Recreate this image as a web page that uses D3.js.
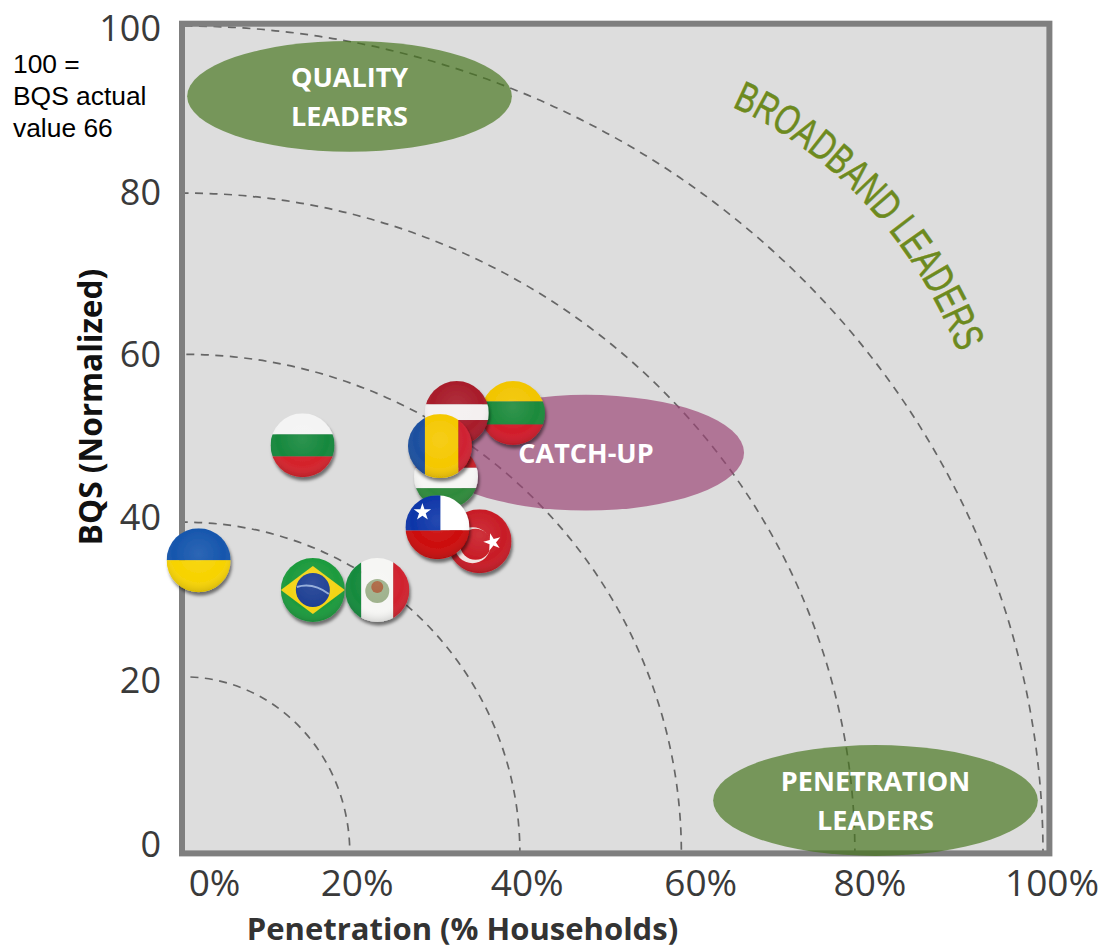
<!DOCTYPE html>
<html>
<head>
<meta charset="utf-8">
<script src="https://cdn.jsdelivr.net/npm/d3@7"></script>
<style>
  html, body { margin: 0; padding: 0; background: #fff; }
  svg { display: block; }
</style>
</head>
<body>
<div id="chart"></div>
<script>
// Country positions: household penetration (%) and normalised BQS
const countries   = ["Lithuania", "Latvia", "Hungary", "Romania", "Turkey", "Chile", "Bulgaria", "Ukraine", "Brazil", "Mexico"];
const penetration = [38.3, 31.75, 30.5, 29.8, 34.4, 29.5, 13.8, 1.7, 15.0, 22.5];
const bqs         = [53.2, 53.2, 45.5, 49.2, 37.7, 39.4, 49.3, 35.4, 31.8, 31.8];

// Iso-score arcs around the origin: intercept on each axis
const arcPenetration = [19.3, 39.1, 57.9, 78.1, 100];
const arcBqs         = [21.3, 40.0, 60.3, 79.8, 100];

// Axis labels and where they sit on their scales
const xTickLabels = ["0%", "20%", "40%", "60%", "80%", "100%"];
const xTickAt     = [3.5, 20.1, 39.9, 60.1, 79.8, 101.0];
const yTickLabels = ["0", "20", "40", "60", "80", "100"];
const yTickAt     = [1.0, 20.8, 40.5, 60.2, 79.8, 99.7];

// Segment zones
const zoneNames  = ["QUALITY|LEADERS", "CATCH-UP", "PENETRATION|LEADERS"];
const zoneX      = [19.27, 46.8, 80.5];
const zoneY      = [91.5, 48.4, 6.35];
const zoneRx     = [18.9, 18.4, 18.9];
const zoneRy     = [6.7, 7.0, 6.7];
const zoneFill   = ["#46741c", "#9b4475", "#46741c"];

const width = 1101, height = 949;
const originX = 184, originY = 853, flagR = 32;

const x = d3.scaleLinear().domain([0, 100]).range([originX, 1043]);
const y = d3.scaleLinear().domain([0, 100]).range([originY, 26]);

const svg = d3.select("#chart").append("svg").attr("width", width).attr("height", height);
const defs = svg.append("defs");

defs.append("clipPath").attr("id", "plot-clip").append("rect")
  .attr("x", 182).attr("y", 24).attr("width", 867).attr("height", 829);

// Soft shadow under each flag ball
const shadow = defs.append("filter").attr("id", "ball-shadow")
  .attr("x", "-30%").attr("y", "-30%").attr("width", "170%").attr("height", "170%");
shadow.append("feDropShadow").attr("dx", 1.5).attr("dy", 3.5).attr("stdDeviation", 1.8)
  .attr("flood-color", "#000").attr("flood-opacity", 0.5);

// Slight softening of the flag artwork
defs.append("filter").attr("id", "ball-soft").append("feGaussianBlur").attr("stdDeviation", 0.7);

// Glossy shading over each ball, darker toward the lower rim
const gloss = defs.append("radialGradient").attr("id", "ball-gloss")
  .attr("cx", "50%").attr("cy", "40%").attr("r", "62%");
gloss.append("stop").attr("offset", "0%").attr("stop-color", "#fff").attr("stop-opacity", 0.1);
gloss.append("stop").attr("offset", "65%").attr("stop-color", "#fff").attr("stop-opacity", 0);
gloss.append("stop").attr("offset", "100%").attr("stop-color", "#000").attr("stop-opacity", 0.16);

// Plot background
svg.append("rect").attr("x", 182).attr("y", 24).attr("width", 867).attr("height", 829).attr("fill", "#dddddd");

// Dashed iso-score arcs
svg.append("g").attr("clip-path", "url(#plot-clip)")
  .selectAll("ellipse").data(arcPenetration).join("ellipse")
  .attr("cx", x(0)).attr("cy", y(0))
  .attr("rx", d => x(d) - x(0))
  .attr("ry", (d, i) => y(0) - y(arcBqs[i]))
  .attr("fill", "none").attr("stroke", "#666").attr("stroke-width", 1.7)
  .attr("stroke-dasharray", "8 6.5");

// Plot frame
svg.append("rect").attr("x", 182).attr("y", 23.7).attr("width", 867.4).attr("height", 829.7)
  .attr("fill", "none").attr("stroke", "#7f7f7f").attr("stroke-width", 6);

// Zones
svg.append("g").selectAll("ellipse").data(zoneNames).join("ellipse")
  .attr("cx", (d, i) => x(zoneX[i])).attr("cy", (d, i) => y(zoneY[i]))
  .attr("rx", (d, i) => x(zoneRx[i]) - x(0)).attr("ry", (d, i) => y(0) - y(zoneRy[i]))
  .attr("fill", (d, i) => zoneFill[i]).attr("fill-opacity", 0.68);

// Axes
const xAxis = d3.axisBottom(x).tickValues(xTickAt).tickSize(0).tickPadding(0)
  .tickFormat((d, i) => xTickLabels[i]);
const yAxis = d3.axisLeft(y).tickValues(yTickAt).tickSize(0).tickPadding(0)
  .tickFormat((d, i) => yTickLabels[i]);

const tickFont = size => g => g.call(s => s.select(".domain").remove())
  .selectAll("text").attr("font-family", "'Open Sans'").attr("font-size", size).attr("fill", "#3a3a3a");

svg.append("g").attr("transform", "translate(0,861)").call(xAxis).call(tickFont(37))
  .selectAll("text").attr("dy", "0.95em");
svg.append("g").attr("transform", "translate(161,0)").call(yAxis).call(tickFont(36));

// Axis titles
svg.append("text").attr("x", 462.5).attr("y", 940).attr("text-anchor", "middle")
  .attr("font-family", "'Open Sans'").attr("font-weight", 700).attr("font-size", 31).attr("fill", "#333")
  .text("Penetration (% Households)");
svg.append("text").attr("transform", "translate(102,407) rotate(-90)").attr("text-anchor", "middle")
  .attr("font-family", "'Open Sans'").attr("font-weight", 700).attr("font-size", 31.6).attr("fill", "#111")
  .text("BQS (Normalized)");

// Scale note
const noteLines = ["100 =", "BQS actual", "value 66"];
svg.append("g").selectAll("text").data(noteLines).join("text")
  .attr("x", 13).attr("y", (d, i) => 73 + i * 32)
  .attr("font-family", "'Liberation Sans'").attr("font-size", 26.4).attr("fill", "#000")
  .text(d => d);

// Curved heading following the outermost arc
const curve = defs.append("path").attr("id", "leaders-curve")
  .attr("d", "M732,107 C810,140 912,225 962,362");
svg.append("text").attr("font-family", "'Liberation Sans'").attr("font-size", 42)
  .attr("fill", "#6d8a1e").attr("stroke", "#6d8a1e").attr("stroke-width", 0.6)
  .append("textPath").attr("href", "#leaders-curve")
  .attr("textLength", curve.node().getTotalLength() - 10)
  .attr("lengthAdjust", "spacingAndGlyphs")
  .text("BROADBAND LEADERS");

// Flags
const stripes = (g, dir, colors, stops) => {
  colors.forEach((c, i) => {
    const a = stops[i] * flagR, b = stops[i + 1] * flagR;
    const r = g.append("rect").attr("fill", c);
    if (dir === "h") r.attr("x", -flagR).attr("width", 2 * flagR).attr("y", a).attr("height", b - a);
    else r.attr("y", -flagR).attr("height", 2 * flagR).attr("x", a).attr("width", b - a);
  });
};
const star = (g, cx, cy, size, rot) => g.append("path")
  .attr("d", d3.symbol(d3.symbolStar, size)())
  .attr("transform", `translate(${cx},${cy}) rotate(${rot || 0})`).attr("fill", "#fff");

const painters = {
  Lithuania: g => stripes(g, "h", ["#f2c500", "#1d8a3a", "#d11f2a"], [-1, -0.36, 0.36, 1]),
  Latvia:    g => stripes(g, "h", ["#a81f2a", "#f4f0f0", "#a81f2a"], [-1, -0.27, 0.22, 1]),
  Hungary:   g => stripes(g, "h", ["#c8242c", "#f6f6f4", "#2f8a3a"], [-1, -0.28, 0.36, 1]),
  Romania:   g => stripes(g, "v", ["#1d4f9f", "#f5c800", "#cf2330"], [-1, -0.47, 0.58, 1]),
  Bulgaria:  g => stripes(g, "h", ["#f4f4f4", "#14883c", "#d4202c"], [-1, -0.34, 0.35, 1]),
  Ukraine:   g => stripes(g, "h", ["#1556ad", "#f7d300"], [-1, 0, 1]),
  Turkey: g => {
    stripes(g, "h", ["#c81e26"], [-1, 1]);
    g.append("circle").attr("cx", -7).attr("cy", 4).attr("r", 18).attr("fill", "#f2e4e2");
    g.append("circle").attr("cx", -4).attr("cy", 3).attr("r", 15.5).attr("fill", "#c81e26");
    star(g, 13, 1, 95, -15);
  },
  Chile: g => {
    stripes(g, "h", ["#ffffff", "#cc0a0a"], [-1, 0.1, 1]);
    g.append("rect").attr("x", -flagR).attr("y", -flagR).attr("width", flagR + 3).attr("height", flagR + 3.2).attr("fill", "#0b35a8");
    star(g, -15, -15, 95, 0);
  },
  Brazil: g => {
    stripes(g, "h", ["#1f9a3c"], [-1, 1]);
    g.append("path").attr("d", "M-32,0 L0,-24 L32,0 L0,24 Z").attr("fill", "#f3d417");
    g.append("circle").attr("r", 17).attr("fill", "#1a3d92");
    g.append("path").attr("d", "M-16,-3 Q0,-8 16,4").attr("fill", "none").attr("stroke", "#8fa8d8").attr("stroke-width", 2);
  },
  Mexico: g => {
    stripes(g, "v", ["#138a3d", "#f6f6f4", "#d0242e"], [-1, -0.5, 0.5, 1]);
    g.append("circle").attr("r", 12).attr("cy", 1).attr("fill", "#9db08a");
    g.append("circle").attr("r", 6).attr("cy", -3).attr("fill", "#a8603a");
  }
};

const flags = svg.append("g").selectAll("g").data(countries).join("g")
  .attr("transform", (d, i) => `translate(${x(penetration[i])},${y(bqs[i])})`)
  .attr("filter", "url(#ball-shadow)");

flags.each(function (name, i) {
  const id = "ball-" + i;
  defs.append("clipPath").attr("id", id).append("circle").attr("r", flagR);
  const inner = d3.select(this).append("g").attr("clip-path", `url(#${id})`);
  const art = inner.append("g").attr("filter", "url(#ball-soft)");
  painters[name](art);
  inner.append("circle").attr("r", flagR).attr("fill", "url(#ball-gloss)");
});

// Zone labels stay above the marks
const zoneLabels = svg.append("g").selectAll("text").data(zoneNames).join("text")
  .attr("text-anchor", "middle").attr("font-family", "'Open Sans'").attr("font-weight", 700)
  .attr("font-size", 27).attr("fill", "#fff");
zoneLabels.each(function (d, i) {
  const parts = d.split("|");
  const top = y(zoneY[i]) + 10.5 - (parts.length - 1) * 19.5;
  d3.select(this).selectAll("tspan").data(parts).join("tspan")
    .attr("x", x(zoneX[i])).attr("y", (p, k) => top + k * 39).text(p => p);
});
</script>
</body>
</html>
